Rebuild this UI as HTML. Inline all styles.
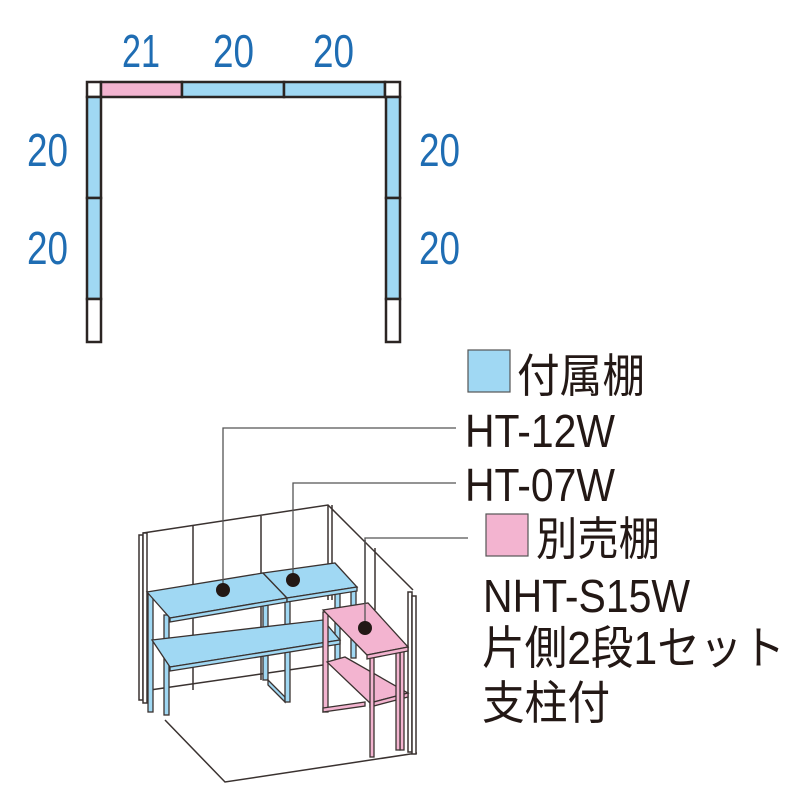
<!DOCTYPE html>
<html><head><meta charset="utf-8"><style>
html,body{margin:0;padding:0;background:#fff;width:800px;height:800px;overflow:hidden}
svg{display:block}
.n{font-family:"Liberation Sans Narrow","Liberation Sans",sans-serif;fill:#1f6db3;font-size:46px}
.t{font-family:"Liberation Sans Narrow","Liberation Sans","Noto Sans CJK JP",sans-serif;fill:#231815;font-size:46px}
.j{font-family:"Liberation Sans","Noto Sans CJK JP",sans-serif;fill:#231815;font-size:46px}
</style></head><body>
<svg width="800" height="800" viewBox="0 0 800 800" xmlns="http://www.w3.org/2000/svg">
<g stroke="#2b2523" stroke-width="2.5">
<rect x="87" y="82" width="14" height="15" fill="#fff"/>
<rect x="101" y="82" width="81" height="15" fill="#f3b4d0"/>
<rect x="182" y="82" width="102" height="15" fill="#a0d8f3"/>
<rect x="284" y="82" width="101" height="15" fill="#a0d8f3"/>
<rect x="385" y="82" width="15" height="15" fill="#fff"/>
<rect x="87" y="97" width="14" height="101" fill="#a0d8f3"/>
<rect x="87" y="198" width="14" height="101" fill="#a0d8f3"/>
<rect x="87" y="299" width="14" height="43" fill="#fff"/>
<rect x="386" y="97" width="14" height="101" fill="#a0d8f3"/>
<rect x="386" y="198" width="14" height="101" fill="#a0d8f3"/>
<rect x="386" y="299" width="14" height="43" fill="#fff"/>
</g>
<text class="n" x="122" y="67" textLength="38" lengthAdjust="spacingAndGlyphs">21</text>
<text class="n" x="213" y="67" textLength="41" lengthAdjust="spacingAndGlyphs">20</text>
<text class="n" x="313" y="67" textLength="41" lengthAdjust="spacingAndGlyphs">20</text>
<text class="n" x="27" y="166" textLength="41" lengthAdjust="spacingAndGlyphs">20</text>
<text class="n" x="27" y="264" textLength="41" lengthAdjust="spacingAndGlyphs">20</text>
<text class="n" x="419" y="166" textLength="41" lengthAdjust="spacingAndGlyphs">20</text>
<text class="n" x="419" y="264" textLength="41" lengthAdjust="spacingAndGlyphs">20</text>

<g fill="none" stroke="#3a3230" stroke-width="1.5">
<polyline points="143,533 328,505 413,590"/>
<polyline points="165,720 225,782 417,753"/>
<line x1="193" y1="526" x2="193" y2="690"/>
<line x1="261" y1="516" x2="261" y2="680"/>
<line x1="328" y1="505" x2="328" y2="600"/>
<line x1="332" y1="505" x2="332" y2="600"/>
<line x1="365" y1="540" x2="365" y2="610"/>
<line x1="375" y1="548" x2="375" y2="610"/>
<rect x="139" y="535" width="4" height="165" fill="#fff"/>
<rect x="143" y="533" width="4" height="170" fill="#fff"/>
<rect x="408" y="592" width="4" height="160" fill="#fff"/>
<rect x="412" y="596" width="4" height="158" fill="#fff"/>
<line x1="150" y1="690" x2="323" y2="665"/>
</g>
<g stroke="#3a3230" stroke-width="1.3" fill="#a0d8f3">
<rect x="148" y="592" width="5" height="120"/>
<rect x="164" y="615" width="5" height="100"/>
<rect x="263" y="605" width="5" height="75"/>
<polygon points="268,680 285,697 285,702 268,685"/>
<rect x="285" y="600" width="5" height="102"/>
<rect x="335" y="590" width="5" height="70"/>
<rect x="351" y="588" width="5" height="70"/>
<polygon points="152,640 323,620 340,640 170,667"/>
<polygon points="170,667 340,640 340,644 170,671"/>
<polygon points="147,592 263,573 287,598 170,618"/>
<polygon points="170,618 287,598 287,602 170,622"/>
<polygon points="263,573 335,563 357,587 287,598"/>
<polygon points="287,598 357,587 357,591 287,602"/>
</g>
<g stroke="#3a3230" stroke-width="1.3" fill="#f3b4d0">
<rect x="323" y="612" width="5" height="100"/>
<polygon points="323,708 365,702 365,706 323,712"/>
<polygon points="327,662 345,657 408,693 370,703"/>
<polygon points="370,703 408,693 408,697 370,707"/>
<rect x="370" y="655" width="4" height="102"/>
<rect x="400" y="650" width="4" height="100"/>
<rect x="396" y="650" width="4" height="100"/>
<polygon points="323,610 368,603 408,647 367,655"/>
<polygon points="367,655 408,647 408,651 367,659"/>
</g>
<g stroke="#555" stroke-width="1.3" fill="none">
<polyline points="223,590 223,428 456,428"/>
<polyline points="293,580 293,483 456,483"/>
<polyline points="365,628 365,538 468,538"/>
</g>
<circle cx="223" cy="590" r="7" fill="#231815"/>
<circle cx="293" cy="580" r="7" fill="#231815"/>
<circle cx="365" cy="628" r="7" fill="#231815"/>
<rect x="468" y="350" width="42" height="42" fill="#a0d8f3" stroke="#555" stroke-width="1.2"/>
<text class="j" x="517" y="392" textLength="128" lengthAdjust="spacingAndGlyphs">付属棚</text>
<text class="t" x="465" y="447" textLength="150" lengthAdjust="spacingAndGlyphs">HT-12W</text>
<text class="t" x="465" y="501" textLength="150" lengthAdjust="spacingAndGlyphs">HT-07W</text>
<rect x="486" y="514" width="42" height="42" fill="#f3b4d0" stroke="#555" stroke-width="1.2"/>
<text class="j" x="536" y="555" textLength="124" lengthAdjust="spacingAndGlyphs">別売棚</text>
<text class="t" x="483" y="612" textLength="207" lengthAdjust="spacingAndGlyphs">NHT-S15W</text>
<text class="j" x="482" y="664" textLength="303" lengthAdjust="spacingAndGlyphs">片側2段1セット</text>
<text class="j" x="482" y="719" textLength="128" lengthAdjust="spacingAndGlyphs">支柱付</text>
</svg>
</body></html>
